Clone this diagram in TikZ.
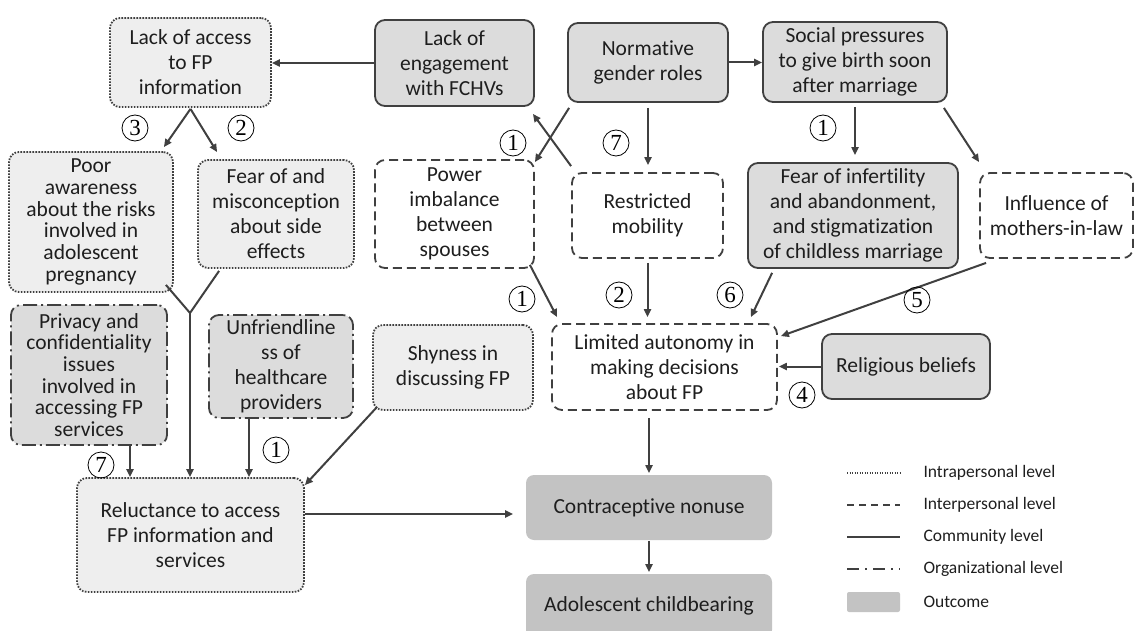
\documentclass[tikz,border=0pt]{standalone}
\usepackage{fontspec}
\setmainfont{Carlito}[Ligatures=NoCommon]
\newfontfamily\numfont{Liberation Serif}
\usetikzlibrary{arrows.meta}

\definecolor{linegray}{HTML}{404040}
\definecolor{textgray}{HTML}{1E1E1E}
\definecolor{intrafill}{HTML}{EEEEEE}
\definecolor{commfill}{HTML}{DCDCDC}
\definecolor{outfill}{HTML}{C3C3C3}

\begin{document}
\begin{tikzpicture}[x=1pt, y=-1pt,
        box/.style={rounded corners=10pt, draw=linegray, line width=1.8pt, align=center,
            inner sep=0pt, text=textgray, font=\fontsize{21.5}{25}\selectfont},
        intra/.style={box, fill=intrafill, dash pattern=on 1.6pt off 1.4pt},
        inter/.style={box, fill=white, dash pattern=on 9pt off 5pt},
        comm/.style={box, fill=commfill},
        orga/.style={box, fill=commfill, dash pattern=on 14pt off 4pt on 2pt off 4pt},
        outcome/.style={box, draw=none, fill=outfill, rounded corners=8pt},
        arr/.style={draw=linegray, line width=2pt, -{Triangle[length=8pt,width=7pt]}},
        num/.style={circle, draw=black, line width=0.8pt, inner sep=0pt, minimum size=26pt,
            font=\numfont\fontsize{23}{23}\selectfont},
        legtext/.style={anchor=west, text=textgray, font=\fontsize{17.5}{17.5}\selectfont}
    ]
        \clip (0,0) rectangle (1134,631);

        % Top row
        \node[intra, minimum width=161pt, minimum height=89pt] (access) at (190.5,62.5)
            {Lack of access\\to FP\\information};
        \node[comm, minimum width=159pt, minimum height=86pt] (engage) at (454.5,63)
            {Lack of\\engagement\\with FCHVs};
        \node[comm, minimum width=160pt, minimum height=79pt] (gender) at (648,62.5)
            {Normative\\gender roles};
        \node[comm, minimum width=184pt, minimum height=80pt] (social) at (855,62)
            {Social pressures\\to give birth soon\\after marriage};

        % Second row
        \node[intra, minimum width=164pt, minimum height=140pt,
            font=\fontsize{21.5}{21.7}\selectfont] (aware) at (91,222)
            {Poor\\awareness\\about the risks\\involved in\\adolescent\\pregnancy};
        \node[intra, minimum width=156pt, minimum height=108pt] (sidefx) at (276,214)
            {Fear of and\\misconception\\about side\\effects};
        \node[inter, minimum width=159pt, minimum height=108pt] (power) at (454.5,214)
            {Power\\imbalance\\between\\spouses};
        \node[inter, minimum width=151pt, minimum height=85pt] (mobil) at (647.5,215.5)
            {Restricted\\mobility};
        \node[comm, minimum width=210pt, minimum height=105pt] (infert) at (853,215.5)
            {Fear of infertility\\and abandonment,\\and stigmatization\\of childless marriage};
        \node[inter, minimum width=153pt, minimum height=85pt] (inlaw) at (1056.5,215.5)
            {Influence of\\mothers-in-law};

        % Third row
        \node[orga, minimum width=156pt, minimum height=140pt,
            font=\fontsize{21.5}{21.7}\selectfont] (privacy) at (89,375)
            {Privacy and\\confidentiality\\issues\\involved in\\accessing FP\\services};
        \node[orga, minimum width=144pt, minimum height=103pt] (unfriend) at (281,366.5)
            {Unfriendline\\ss of\\healthcare\\providers};
        \node[intra, minimum width=160pt, minimum height=85pt] (shy) at (453,367.5)
            {Shyness in\\discussing FP};
        \node[inter, minimum width=225pt, minimum height=86pt] (autonomy) at (664.5,367)
            {Limited autonomy in\\making decisions\\about FP};
        \node[comm, minimum width=168pt, minimum height=65pt] (relig) at (906,366.5)
            {Religious beliefs};

        % Bottom
        \node[intra, minimum width=227pt, minimum height=114pt] (reluct) at (190.5,535)
            {Reluctance to access\\FP information and\\services};
        \node[outcome, minimum width=246pt, minimum height=65pt] (nonuse) at (649,507.5)
            {Contraceptive nonuse};
        \node[outcome, minimum width=246pt, minimum height=64pt] (childbear) at (649,606)
            {Adolescent childbearing};

        % Arrows
        \draw[arr] (engage.west) -- (engage.west -| access.east);
        \draw[arr] (gender.east) -- (gender.east -| social.west);
        \draw[arr] ([yshift=-1pt]access.south) -- ([xshift=-10pt,yshift=4pt]aware.north east);
        \draw[arr] ([yshift=-1pt]access.south) -- ([xshift=20pt,yshift=7pt]sidefx.north west);
        \coordinate (merge) at (190,313);
        \draw[draw=linegray, line width=2pt] ([xshift=-8pt,yshift=8pt]aware.south east) -- (merge)
            -- ([xshift=22pt,yshift=-2pt]sidefx.south west);
        \draw[arr] (merge) -- (merge |- reluct.north);
        \draw[arr] ([xshift=41pt]privacy.south) -- ([xshift=41pt]privacy.south |- reluct.north);
        \draw[arr] ([xshift=-32pt]unfriend.south) -- ([xshift=-32pt]unfriend.south |- reluct.north);
        \draw[arr] ([xshift=5pt,yshift=4pt]shy.south west) -- ([yshift=-8pt]reluct.north east);
        \draw[arr, shorten >=12pt] ([yshift=21pt]reluct.east) -- ([yshift=21pt]reluct.east -| nonuse.west);

        \draw[arr] ([xshift=2pt,yshift=-5pt]gender.south west) -- ([yshift=-3pt]power.north east);
        \draw[arr] ([yshift=6pt]mobil.north west) -- ([xshift=-2pt,yshift=-7pt]engage.south east);
        \draw[arr, shorten <=5pt, shorten >=7pt] (gender.south) -- (gender.south |- mobil.north);
        \draw[arr, shorten <=4pt, shorten >=7pt] (social.south) -- (social.south |- infert.north);
        \draw[arr] ([xshift=-4pt,yshift=-5pt]social.south east) -- ([yshift=10pt]inlaw.north west);

        \draw[arr] ([xshift=-5pt,yshift=4pt]power.south east) -- ([xshift=6pt,yshift=6pt]autonomy.north west);
        \draw[arr, shorten <=4pt, shorten >=6pt] (mobil.south) -- (mobil.south |- autonomy.north);
        \draw[arr] ([xshift=25pt,yshift=-4pt]infert.south west) -- ([xshift=-27pt,yshift=6pt]autonomy.north east);
        \draw[arr] ([xshift=7pt,yshift=-4pt]inlaw.south west) -- ([xshift=3pt,yshift=-13pt]autonomy.north east);
        \draw[arr, shorten >=1pt] (relig.west) -- (relig.west -| autonomy.east);
        \draw[arr, shorten <=7pt, shorten >=1pt] (nonuse.north |- autonomy.south) -- (nonuse.north);
        \draw[arr, shorten >=1pt] (nonuse.south) -- (childbear.north);

        % Numbers
        \node[num] (n1) at (135,128) {3};
        \node[num] (n2) at (241,128) {2};
        \node[num] (n3) at (101,465) {7};
        \node[num] (n4) at (276,450) {1};
        \node[num] (n5) at (513,143) {1};
        \node[num] (n6) at (616,143) {7};
        \node[num] (n7) at (823,128) {1};
        \node[num] (n8) at (522,299) {1};
        \node[num] (n9) at (619,295) {2};
        \node[num] (n10) at (730,295) {6};
        \node[num] (n11) at (917,300) {5};
        \node[num] (n12) at (802,395) {4};

        % Legend
        \draw[draw=linegray, line width=1.5pt, dash pattern=on 1pt off 1.5pt] (847,473) -- (900,473);
        \draw[draw=linegray, line width=1.5pt, dash pattern=on 7pt off 5pt] (847,505) -- (900,505);
        \draw[draw=linegray, line width=1.5pt] (847,537) -- (900,537);
        \draw[draw=linegray, line width=1.5pt, dash pattern=on 12pt off 6pt on 2pt off 6pt] (847,569) -- (900,569);
        \fill[outfill, rounded corners=2pt] (847,592) rectangle (900,612);
        \node[legtext] (l1) at (920,473) {Intrapersonal level};
        \node[legtext] (l2) at (920,505) {Interpersonal level};
        \node[legtext] (l3) at (920,537) {Community level};
        \node[legtext] (l4) at (920,569) {Organizational level};
        \node[legtext] (l5) at (920,602) {Outcome};
\end{tikzpicture}
\end{document}
